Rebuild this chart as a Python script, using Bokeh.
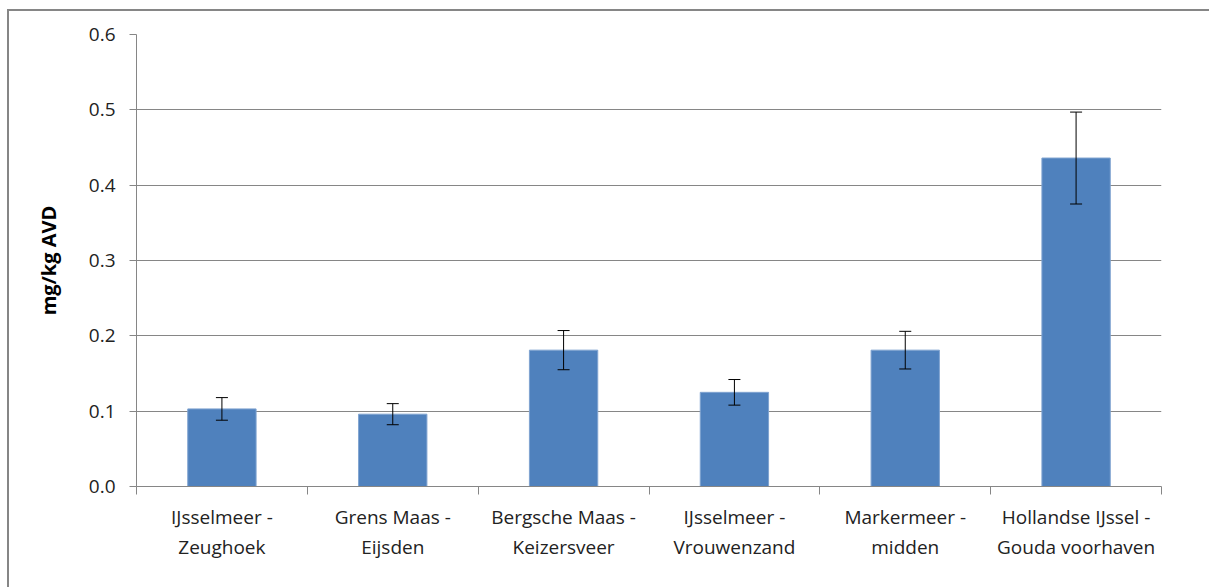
from bokeh.plotting import figure
from bokeh.models import ColumnDataSource, Whisker, TeeHead, FixedTicker, NumeralTickFormatter, Range1d
from bokeh.embed import file_html
from bokeh.resources import INLINE

categories = ["IJsselmeer -\nZeughoek", "Grens Maas -\nEijsden", "Bergsche Maas -\nKeizersveer",
              "IJsselmeer -\nVrouwenzand", "Markermeer -\nmidden", "Hollandse IJssel -\nGouda voorhaven"]
values = [0.103, 0.096, 0.181, 0.125, 0.181, 0.436]
errors = [0.015, 0.014, 0.026, 0.017, 0.025, 0.061]
y_ticks = [0.0, 0.1, 0.2, 0.3, 0.4, 0.5, 0.6]

xs = [i + 0.5 for i in range(len(categories))]
src = ColumnDataSource(dict(
    x=xs, top=values,
    upper=[v + e for v, e in zip(values, errors)],
    lower=[v - e for v, e in zip(values, errors)],
))

FONT = "Open Sans"
GRAY = "#868686"

p = figure(width=1202, height=578, output_backend="svg", toolbar_location=None,
           x_range=Range1d(0, len(categories)), y_range=Range1d(0, 0.6))
p.min_border_left = 129
p.min_border_top = 25
p.min_border_right = 48
p.min_border_bottom = 101
p.outline_line_color = None
p.border_fill_alpha = 0
p.background_fill_color = "white"
p.styles = {"margin-left": "7px", "margin-top": "9px",
            "box-shadow": "inset 2px 2px 0 #868686"}

p.vbar(x="x", top="top", width=0.4, source=src, fill_color="#4F81BD",
       line_color="#7FA3D0", line_width=1)
p.add_layout(Whisker(base="x", upper="upper", lower="lower", source=src,
                     line_color="black", line_width=1, level="overlay",
                     upper_head=TeeHead(size=12, line_color="black", line_width=1),
                     lower_head=TeeHead(size=12, line_color="black", line_width=1)))

# grid
p.xgrid.grid_line_color = None
p.ygrid.grid_line_color = GRAY
p.ygrid.grid_line_width = 1
p.ygrid.ticker = FixedTicker(ticks=y_ticks)

# y axis
p.yaxis.ticker = FixedTicker(ticks=y_ticks)
p.yaxis.formatter = NumeralTickFormatter(format="0.0")
p.yaxis.axis_line_color = GRAY
p.yaxis.major_tick_line_color = GRAY
p.yaxis.major_tick_out = 7
p.yaxis.major_tick_in = 0
p.yaxis.minor_tick_line_color = None
p.yaxis.major_label_text_font = FONT
p.yaxis.major_label_text_font_size = "19px"
p.yaxis.major_label_text_color = "#222222"
p.yaxis.major_label_standoff = 14
p.yaxis.axis_label = "mg/kg AVD"
p.yaxis.axis_label_text_font = FONT
p.yaxis.axis_label_text_font_style = "bold"
p.yaxis.axis_label_text_font_size = "20px"
p.yaxis.axis_label_text_color = "black"
p.yaxis.axis_label_standoff = 24

# x axis: labels at centres, tick marks at category boundaries
p.xaxis.ticker = FixedTicker(ticks=xs, minor_ticks=list(range(len(categories) + 1)))
p.xaxis.major_label_overrides = {x: c for x, c in zip(xs, categories)}
p.xaxis.axis_line_color = GRAY
p.xaxis.major_tick_line_color = None
p.xaxis.major_tick_out = 0
p.xaxis.major_tick_in = 0
p.xaxis.minor_tick_line_color = GRAY
p.xaxis.minor_tick_out = 8
p.xaxis.minor_tick_in = 0
p.xaxis.major_label_text_font = FONT
p.xaxis.major_label_text_font_size = "19px"
p.xaxis.major_label_text_color = "#222222"
p.xaxis.major_label_standoff = 9
p.xaxis.major_label_text_line_height = 1.16

open("out.html", "w").write(file_html(p, INLINE))
